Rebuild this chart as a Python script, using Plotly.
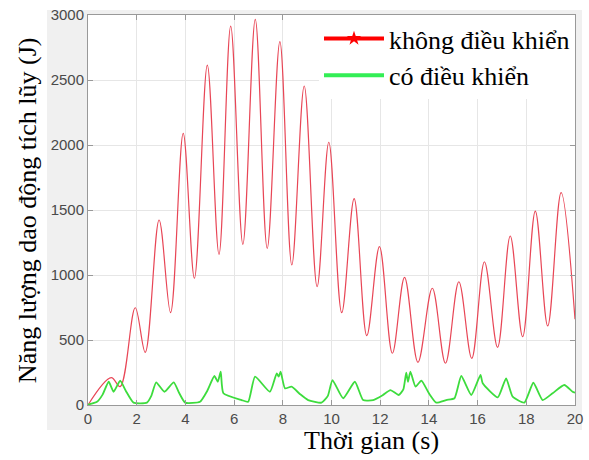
import plotly.graph_objects as go

# Uncontrolled (red) - peaks and troughs
t_red = [0, 0.955, 1.32, 1.94, 2.35, 2.92, 3.39, 3.91, 4.37, 4.90, 5.38, 5.86, 6.36,
         6.87, 7.36, 7.88, 8.37, 8.88, 9.41, 9.89, 10.42, 10.93, 11.45, 11.97, 12.50,
         13.00, 13.55, 14.14, 14.68, 15.23, 15.76, 16.28, 16.82, 17.34, 17.85, 18.37,
         18.88, 19.43, 20.0]
e_red = [0, 210, 141, 748, 405, 1423, 710, 2090, 975, 2615, 1159, 2915, 1236,
         2967, 1205, 2795, 1077, 2454, 910, 2021, 710, 1587, 533, 1218, 398,
         982, 328, 898, 321, 948, 359, 1102, 444, 1300, 525, 1492,
         608, 1633, 659]

# Controlled (green)
t_green = [0, 0.37, 0.6, 0.85, 1.05, 1.32, 1.55, 1.87, 2.42, 2.6,
           2.80, 3.14, 3.52, 3.75, 3.99, 4.60, 4.9, 5.19, 5.33, 5.45,
           5.56, 6.31, 6.58, 6.86, 7.47, 7.75, 7.83, 7.91, 8.09, 8.36,
           8.7, 9.04, 9.59, 9.85, 10.04, 10.48, 10.96, 11.30, 11.71, 12.1,
           12.42, 12.76, 12.95, 13.07, 13.14, 13.24, 13.45, 13.69, 14.0, 14.30,
           14.71, 15.05, 15.33, 15.74, 16.12, 16.21, 16.83, 17.17, 17.44, 17.92,
           18.29, 18.67, 19.08, 19.56, 19.90, 20.0]
e_green = [3, 25, 80, 179, 102, 187, 110, 18, 18, 70,
           174, 102, 174, 90, 18, 25, 110, 223, 179, 256,
           90, 38, 25, 218, 102, 244, 218, 256, 128, 141,
           85, 38, 18, 70, 192, 52, 179, 38, 38, 75,
           115, 77, 120, 248, 179, 256, 141, 187, 90, 18,
           38, 52, 223, 77, 231, 167, 59, 205, 64, 18,
           171, 38, 90, 154, 102, 95]

x_ticks = [0, 2, 4, 6, 8, 10, 12, 14, 16, 18, 20]
y_ticks = [0, 500, 1000, 1500, 2000, 2500, 3000]

name_red = "không điều khiển"
name_green = "có điều khiển"
x_title = "Thời gian (s)"
y_title = "Năng lượng dao động tích lũy (J)"

RED = "#e84656"
RED_LEG = "#ff0000"
GREEN = "#3ddc3d"
SERIF = "Liberation Serif, Times New Roman, serif"

fig = go.Figure()
fig.add_trace(go.Scatter(x=t_red, y=e_red, mode="lines",
                         line=dict(color=RED, width=1.2, shape="spline", smoothing=1),
                         showlegend=False, hoverinfo="skip"))
fig.add_trace(go.Scatter(x=t_green, y=e_green, mode="lines",
                         line=dict(color=GREEN, width=1.8, shape="spline", smoothing=0.5),
                         showlegend=False, hoverinfo="skip"))
# legend-only entries
fig.add_trace(go.Scatter(x=[None], y=[None], mode="lines+markers", name=name_red,
                         line=dict(color=RED_LEG, width=4),
                         marker=dict(symbol="star", size=11, color=RED_LEG)))
fig.add_trace(go.Scatter(x=[None], y=[None], mode="lines", name=name_green,
                         line=dict(color="#33ee55", width=4)))

axis_common = dict(showline=True, linecolor="#999999", linewidth=1, mirror="ticks",
                   ticks="inside", ticklen=5, tickcolor="#999999", automargin=False,
                   showgrid=True, gridcolor="#e6e6e6", gridwidth=1, zeroline=False,
                   tickfont=dict(family="Liberation Sans", size=15, color="#4a4a4a"))

fig.update_xaxes(range=[0, 20], tickvals=x_ticks, **axis_common)
fig.update_yaxes(range=[0, 3000], tickvals=y_ticks, **axis_common)

fig.update_layout(
    width=589, height=460,
    margin=dict(l=88, r=14, t=15, b=55, autoexpand=False),
    paper_bgcolor="white", plot_bgcolor="white",
    font=dict(family=SERIF),
    showlegend=True,
    legend=dict(x=1.0, xanchor="right", y=1.0, yanchor="top",
                bgcolor="white", borderwidth=0, itemwidth=60,
                font=dict(family=SERIF, size=26, color="black"),
                tracegroupgap=0),
    shapes=[
        dict(type="rect", xref="paper", yref="paper", x0=-0.0842, x1=1.0144, y0=-0.0641, y1=1.0128,
             fillcolor="#f0f0f0", line=dict(width=0), layer="below"),
        dict(type="rect", xref="paper", yref="paper", x0=0, x1=1, y0=0, y1=1,
             fillcolor="white", line=dict(width=0), layer="below"),
    ],
    annotations=[
        dict(text=x_title, xref="paper", yref="paper", x=0.583, y=-0.091,
             xanchor="center", yanchor="middle", showarrow=False,
             font=dict(family=SERIF, size=26, color="black")),
        dict(text=y_title, xref="paper", yref="paper", x=-0.125, y=0.5,
             xanchor="center", yanchor="middle", showarrow=False, textangle=-90,
             font=dict(family=SERIF, size=26, color="black")),
    ],
)

fig.write_html("out.html", config={"displayModeBar": False},
               post_script="document.body.style.margin='0';")
